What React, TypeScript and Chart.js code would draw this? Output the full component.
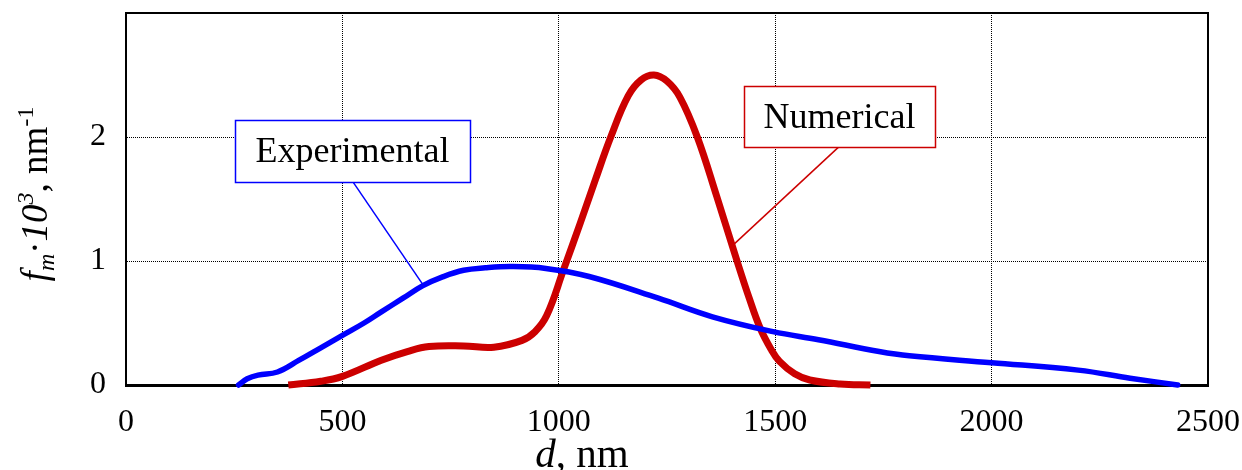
import React, { useEffect, useRef } from "react";
import { Chart, registerables } from "chart.js";

Chart.register(...registerables);

// ---- data ----
const expD = [260, 280, 305, 350, 400, 450, 500, 550, 590, 640, 685, 730, 780, 830, 890, 970, 1070, 1230, 1355, 1495, 1600, 1740, 1810, 2000, 2200, 2320, 2430];
const expF = [0, 0.05, 0.08, 0.105, 0.2, 0.3, 0.4, 0.5, 0.59, 0.7, 0.8, 0.87, 0.925, 0.945, 0.955, 0.94, 0.875, 0.7, 0.55, 0.43, 0.365, 0.27, 0.235, 0.18, 0.12, 0.055, 0];

const numD = [375, 450, 500, 590, 650, 700, 780, 850, 915, 945, 972, 1010, 1050, 1085, 1120, 1160, 1190, 1220, 1250, 1280, 1320, 1365, 1410, 1440, 1465, 1490, 1510, 1545, 1580, 1650, 1720];
const numF = [0, 0.03, 0.07, 0.2, 0.27, 0.31, 0.315, 0.305, 0.36, 0.43, 0.56, 0.92, 1.31, 1.66, 2.0, 2.33, 2.46, 2.5, 2.45, 2.32, 2.0, 1.52, 1.02, 0.7, 0.46, 0.29, 0.19, 0.09, 0.04, 0.008, 0];

const xTicks = [0, 500, 1000, 1500, 2000, 2500];
const yTicks = [0, 1, 2];
const seriesNames = ["Experimental", "Numerical"];

const FONT = '"Liberation Serif", "Times New Roman", serif';

// callout boxes in data coordinates: [xLeft, xRight, yTop, yBottom]
const callouts = [
  { text: seriesNames[0], color: "#0000ff", box: [252, 795, 2.14, 1.64], from: [524, 1.64], to: [686, 0.81] },
  { text: seriesNames[1], color: "#cc0000", box: [1428, 1869, 2.41, 1.92], from: [1647, 1.92], to: [1400, 1.12] },
];

type Part = { t: string; italic?: boolean; scale?: number; dy?: number };

function drawRich(ctx: CanvasRenderingContext2D, parts: Part[], size: number) {
  const fontOf = (p: Part) => `${p.italic ? "italic " : ""}${size * (p.scale || 1)}px ${FONT}`;
  let total = 0;
  const ws = parts.map((p) => {
    ctx.font = fontOf(p);
    const w = ctx.measureText(p.t).width;
    total += w;
    return w;
  });
  let cx = -total / 2;
  ctx.textAlign = "left";
  ctx.textBaseline = "alphabetic";
  parts.forEach((p, i) => {
    ctx.font = fontOf(p);
    ctx.fillText(p.t, cx, (p.dy || 0) * size);
    cx += ws[i];
  });
}

const overlayPlugin = {
  id: "overlay",
  afterDatasetsDraw(chart: any) {
    const { ctx, chartArea: a, scales } = chart;
    const x = scales.x;
    const y = scales.y;
    ctx.save();
    ctx.strokeStyle = "#000";
    ctx.lineWidth = 2;
    ctx.beginPath();
    ctx.moveTo(a.left, a.top);
    ctx.lineTo(a.right, a.top);
    ctx.lineTo(a.right, a.bottom);
    ctx.stroke();

    for (const c of callouts) {
      const L = Math.round(x.getPixelForValue(c.box[0]));
      const R = Math.round(x.getPixelForValue(c.box[1]));
      const T = Math.round(y.getPixelForValue(c.box[2]));
      const B = Math.round(y.getPixelForValue(c.box[3]));
      ctx.strokeStyle = c.color;
      ctx.lineWidth = 1.5;
      ctx.beginPath();
      ctx.moveTo(x.getPixelForValue(c.from[0]), y.getPixelForValue(c.from[1]));
      ctx.lineTo(x.getPixelForValue(c.to[0]), y.getPixelForValue(c.to[1]));
      ctx.stroke();
      ctx.fillStyle = "#fff";
      ctx.fillRect(L, T, R - L, B - T);
      ctx.lineWidth = 1.5;
      ctx.strokeRect(L + 0.5, T + 0.5, R - L, B - T);
      ctx.fillStyle = "#000";
      ctx.font = `36px ${FONT}`;
      ctx.textAlign = "center";
      ctx.textBaseline = "middle";
      ctx.fillText(c.text, (L + R) / 2, (T + B) / 2 + 2);
    }
    ctx.restore();
  },
  afterDraw(chart: any) {
    const { ctx } = chart;
    ctx.save();
    ctx.fillStyle = "#000";
    // x title
    ctx.translate(582, 467);
    drawRich(ctx, [{ t: "d", italic: true }, { t: ", nm" }], 41);
    ctx.restore();
    ctx.save();
    ctx.fillStyle = "#000";
    ctx.translate(47, 194);
    ctx.rotate(-Math.PI / 2);
    drawRich(
      ctx,
      [
        { t: "f", italic: true },
        { t: "m", italic: true, scale: 0.65, dy: 0.2 },
        { t: "·" },
        { t: "10", italic: true },
        { t: "3", italic: true, scale: 0.65, dy: -0.38 },
        { t: ", nm" },
        { t: "-1", scale: 0.65, dy: -0.38 },
      ],
      37
    );
    ctx.restore();
  },
};

export default function App() {
  const ref = useRef<HTMLCanvasElement | null>(null);

  useEffect(() => {
    document.body.style.margin = "0";
    const canvas = ref.current;
    if (!canvas) return;
    const chart = new Chart(canvas, {
      type: "line",
      data: {
        datasets: [
          {
            label: seriesNames[0],
            data: expD.map((d, i) => ({ x: d, y: expF[i] })),
            borderColor: "#0000ff",
            borderWidth: 5.5,
            pointRadius: 0,
            tension: 0.4,
            fill: false,
            clip: false as any,
            borderCapStyle: "round",
            borderJoinStyle: "round",
          },
          {
            label: seriesNames[1],
            data: numD.map((d, i) => ({ x: d, y: numF[i] })),
            borderColor: "#cc0000",
            borderWidth: 7,
            pointRadius: 0,
            tension: 0.4,
            fill: false,
            clip: false as any,
            borderJoinStyle: "round",
          },
        ],
      },
      options: {
        animation: false,
        responsive: true,
        maintainAspectRatio: false,
        events: [],
        layout: { padding: { left: 0, right: 34, top: 13, bottom: 0 } },
        plugins: { legend: { display: false }, tooltip: { enabled: false } },
        scales: {
          x: {
            type: "linear",
            min: 0,
            max: 2500,
            afterBuildTicks: (s: any) => {
              s.ticks = xTicks.map((v) => ({ value: v }));
            },
            afterFit: (s: any) => {
              s.height = 85;
              s.paddingLeft = 0;
              s.paddingRight = 0;
            },
            ticks: {
              color: "#000",
              font: { family: FONT, size: 32 },
              padding: 18,
              maxRotation: 0,
              autoSkip: false,
              callback: (v: any) => String(v),
            },
            grid: {
              drawTicks: false,
              tickLength: 0,
              lineWidth: 1,
              color: (c: any) => (c.tick && (c.tick.value === 0 || c.tick.value === 2500) ? "rgba(0,0,0,0)" : "#000"),
            },
            border: { display: true, color: "#000", width: 3, dash: [1, 1] },
          },
          y: {
            type: "linear",
            min: 0,
            max: 3,
            afterBuildTicks: (s: any) => {
              s.ticks = yTicks.map((v) => ({ value: v }));
            },
            afterFit: (s: any) => {
              s.width = 126;
              s.paddingTop = 0;
              s.paddingBottom = 0;
            },
            ticks: {
              color: "#000",
              font: { family: FONT, size: 32 },
              padding: 20,
              callback: (v: any) => String(v),
            },
            grid: {
              drawTicks: false,
              tickLength: 0,
              lineWidth: 1,
              color: (c: any) => (c.tick && (c.tick.value === 0 || c.tick.value === 3) ? "rgba(0,0,0,0)" : "#000"),
            },
            border: { display: true, color: "#000", width: 2, dash: [1, 1] },
          },
        },
      },
      plugins: [overlayPlugin],
    } as any);
    return () => chart.destroy();
  }, []);

  return (
    <div style={{ width: 1242, height: 470, position: "relative", background: "#fff" }}>
      <canvas ref={ref} />
    </div>
  );
}
